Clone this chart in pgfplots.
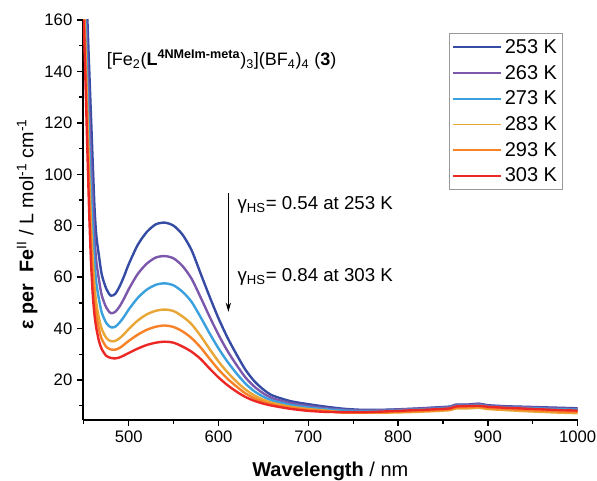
\documentclass[border=0pt]{standalone}
\usepackage{pgfplots}
\pgfplotsset{compat=1.18}
\usepackage{pgfplotstable}
\usepackage{fontspec}
\setmainfont{Liberation Sans}
\usetikzlibrary{arrows.meta}
\definecolor{c253}{RGB}{54,76,164}
\definecolor{c263}{RGB}{124,88,172}
\definecolor{c273}{RGB}{58,160,222}
\definecolor{c283}{RGB}{232,166,54}
\definecolor{c293}{RGB}{248,130,40}
\definecolor{c303}{RGB}{236,40,38}
\pgfplotstableread{
lam b253 b263 b273 b283 b293 b303
450 205 192.4 182.1 172.2 166.1 160
452 182 168.7 157.8 147.3 140.9 134.5
454 160 145.7 134 122.8 115.9 109
456 141 125.3 112.4 100.1 92.6 85
458 122.5 106.7 93.7 81.3 73.6 66
460 104 89.7 78 66.8 59.9 53
462 86.5 74.9 65.3 56.2 50.6 45
464 76 65.9 57.6 49.7 44.9 40
467 68 58.8 51.2 43.9 39.5 35
470 61 52.9 46.2 39.8 35.9 32
475 55.5 48.2 42.2 36.4 32.9 29.4
480 52.8 46 40.5 35.1 31.9 28.6
485 53.5 46.5 40.7 35.2 31.8 28.4
490 56.5 48.7 42.4 36.3 32.5 28.8
495 60.5 51.8 44.7 37.9 33.8 29.6
500 65 55.3 47.4 39.8 35.2 30.5
510 72.5 61.2 51.9 43.1 37.6 32.2
520 77.5 65.2 55.1 45.5 39.5 33.6
530 80.5 67.6 57 46.9 40.7 34.5
540 81.2 68.2 57.6 47.4 41.2 34.9
550 80 67.3 56.8 46.8 40.6 34.5
560 76.5 64.3 54.3 44.7 38.9 33
570 70.5 59.4 50.4 41.7 36.3 31
580 61.5 52.2 44.5 37.2 32.7 28.2
590 52.5 44.7 38.2 32.1 28.3 24.5
600 44 37.6 32.3 27.2 24.1 21
610 36.5 31.3 27.1 23 20.5 18
620 30 25.9 22.6 19.4 17.5 15.5
630 24 21 18.6 16.3 14.8 13.4
640 19.5 17.4 15.6 14 12.9 11.9
650 16.3 14.8 13.5 12.3 11.5 10.8
660 14 12.9 12 11.1 10.5 10
680 11.8 11 10.3 9.6 9.2 8.8
700 10.6 9.9 9.3 8.7 8.4 8.0
720 9.6 9.0 8.6 8.1 7.9 7.6
740 8.8 8.4 8.1 7.4 7.3 7.5
760 8.4 8.1 7.9 7.3 7.3 7.5
780 8.4 8.2 7.9 7.3 7.4 7.7
800 8.6 8.5 8.2 7.4 7.6 8.0
820 8.9 8.8 8.5 7.6 7.9 8.3
840 9.3 9.1 8.8 7.9 8.2 8.6
858 9.7 9.5 9.2 8.3 8.6 9.0
864 10.4 10.2 9.9 8.9 9.3 9.7
880 10.5 10.3 10.0 9.0 9.5 9.9
890 10.8 10.6 10.3 9.2 9.7 10.0
900 10.2 10.0 9.7 8.7 9.2 9.6
920 9.8 9.6 9.3 8.3 8.8 9.2
940 9.6 9.4 9.1 7.9 8.4 8.9
960 9.4 9.2 8.9 7.6 8.1 8.6
980 9.2 8.9 8.6 7.3 7.8 8.3
1000 9 8.8 8.5 7.1 7.6 8.1
}\spectra
\begin{document}
\begin{tikzpicture}
\begin{axis}[
  name=ax,
  scale only axis,
  width=371pt, height=300pt,
  xmin=449.1, xmax=1000,
  ymin=4.45, ymax=160,
  axis lines=left,
  axis line style={-, line width=1.1pt},
  tick style={line width=1.0pt, black},
  tick align=outside,
  major tick length=4.5pt,
  minor tick length=3pt,
  xtick={500,600,700,800,900,1000},
  minor xtick={450,550,650,750,850,950},
  ytick={20,40,60,80,100,120,140,160},
  minor ytick={10,30,50,70,90,110,130,150},
  /pgf/number format/assume math mode=true,
  /pgf/number format/1000 sep={},
  tick label style={font=\fontsize{12.5}{14}\selectfont},
  xlabel={\textbf{Wavelength} / nm},
  ylabel={\textbf{ε per\ \ Fe}\textsuperscript{II} / L mol\textsuperscript{-1} cm\textsuperscript{-1}},
  xlabel style={font=\fontsize{15}{17}\selectfont, at={(axis description cs:0.5,-0.129)}, anchor=center},
  ylabel style={font=\fontsize{14.8}{16}\selectfont, at={(axis description cs:-0.113,0.49)}, anchor=center},
  legend style={at={(rel axis cs:0.970,0.9675)}, anchor=north east, draw=gray!80, line width=0.6pt,
     font=\fontsize{15}{16}\selectfont, row sep=4.3pt, inner xsep=2pt, inner ysep=3pt,
     nodes={inner xsep=2pt, inner ysep=1.5pt}},
  legend cell align=left,
  legend image code/.code={\draw[#1, line width=1.4pt] (0pt,0pt) -- (36pt,0pt);},
  every axis plot/.append style={line width=1.8pt, line join=round, smooth, tension=0.45},
]
\addplot[c253] table[x=lam,y=b253] {\spectra};
\addplot[c263] table[x=lam,y=b263] {\spectra};
\addplot[c273] table[x=lam,y=b273] {\spectra};
\addplot[c283] table[x=lam,y=b283] {\spectra};
\addplot[c293] table[x=lam,y=b293] {\spectra};
\addplot[c303] table[x=lam,y=b303] {\spectra};
\legend{253 K,263 K,273 K,283 K,293 K,303 K}
\draw[-{Stealth[length=7pt,width=4pt]}, line width=0.7pt] (axis cs:611,92.7) -- (axis cs:611,46.5);
\node[anchor=west, font=\fontsize{14}{16}\selectfont, inner sep=0pt] at (axis cs:621,88) {γ\textsubscript{HS}= 0.54 at 253 K};
\node[anchor=west, font=\fontsize{14}{16}\selectfont, inner sep=0pt] at (axis cs:621,60.2) {γ\textsubscript{HS}= 0.84 at 303 K};
\node[anchor=west, font=\fontsize{13.5}{16}\selectfont, inner sep=0pt] at (axis cs:475.5,144.5) {[Fe\textsubscript{2}(\textbf{L}\textsuperscript{\textbf{4NMeIm-meta}})\textsubscript{3}](BF\textsubscript{4})\textsubscript{4} (\textbf{3})};
\end{axis}
\pgfresetboundingbox
\path[use as bounding box] ([xshift=-62.25pt,yshift=-45.75pt]ax.south west) rectangle ([xshift=14.5pt,yshift=15pt]ax.north east);
\end{tikzpicture}
\end{document}
